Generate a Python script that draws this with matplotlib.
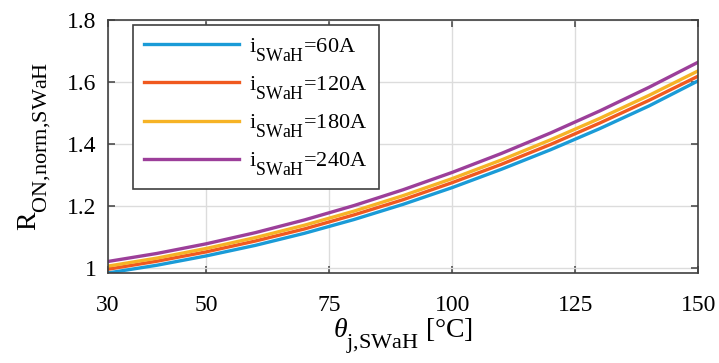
import numpy as np
import matplotlib.pyplot as plt
import matplotlib._mathtext as mt

plt.rcParams['font.family'] = 'Liberation Serif'
plt.rcParams['mathtext.fontset'] = 'custom'
plt.rcParams['mathtext.rm'] = 'Liberation Serif'
plt.rcParams['mathtext.it'] = 'Liberation Serif:italic'

# bigger, lower subscripts like the MATLAB tex interpreter
mt.SHRINK_FACTOR = 0.8
mt.FontConstantsBase.sub1 = 0.9

# junction temperature [°C]
theta = [30, 40, 50, 60, 70, 80, 90, 100, 110, 120, 130, 140, 150]

# normalised on-resistance for each current
r_60 = [0.985, 1.010, 1.040, 1.074, 1.113, 1.157, 1.206, 1.260, 1.319, 1.382, 1.450, 1.523, 1.604]
r_120 = [0.997, 1.023, 1.053, 1.088, 1.127, 1.172, 1.221, 1.276, 1.335, 1.399, 1.468, 1.541, 1.619]
r_180 = [1.007, 1.033, 1.064, 1.099, 1.139, 1.184, 1.234, 1.289, 1.349, 1.414, 1.483, 1.557, 1.636]
r_240 = [1.022, 1.048, 1.079, 1.115, 1.156, 1.202, 1.253, 1.309, 1.370, 1.436, 1.507, 1.583, 1.664]

labels = ['60A', '120A', '180A', '240A']
colors = ['#1a9bd7', '#f0591f', '#f6b326', '#9c3f9a']

xticks = [30, 50, 75, 100, 125, 150]
yticks = [1, 1.2, 1.4, 1.6, 1.8]

fig = plt.figure(figsize=(7.19, 3.63), dpi=100)
ax = fig.add_axes([0.150, 0.248, 0.821, 0.697])

for r, lab, c in zip([r_60, r_120, r_180, r_240], labels, colors):
    ax.plot(theta, r, color=c, lw=2.4, label='$\\mathrm{i}_{\\mathrm{SWaH}}$=' + lab)

ax.set_xlim(30, 150)
ax.set_ylim(0.985, 1.8)
ax.set_xticks(xticks)
ax.set_xticklabels([str(t) for t in xticks])
ax.set_yticks(yticks)
ax.set_yticklabels(['1', '1.2', '1.4', '1.6', '1.8'])
ax.grid(True, color='#dcdcdc', lw=1)
ax.tick_params(direction='in', top=True, right=True, labelsize=17, length=5,
               color='#404040', width=1.1)
ax.tick_params(axis='x', pad=16)
ax.tick_params(axis='y', pad=8)
for s in ax.spines.values():
    s.set_color('#404040')
    s.set_linewidth(1.2)

ax.set_ylabel('$\\mathrm{R}_{\\mathrm{ON{,}norm{,}SWaH}}$', fontsize=20, labelpad=10)
ax.set_xlabel('$\\theta_{\\mathrm{j{,}SWaH}}$ [°C]', fontsize=20, labelpad=0)

leg = ax.legend(loc='upper left', bbox_to_anchor=(0.042, 0.98), borderaxespad=0,
                fontsize=16, frameon=True, fancybox=False, framealpha=1,
                edgecolor='#404040', handlelength=4.3, handletextpad=0.45,
                labelspacing=0.5, borderpad=0.5)
leg.get_frame().set_linewidth(1.2)

fig.savefig('out.png', dpi=100)
